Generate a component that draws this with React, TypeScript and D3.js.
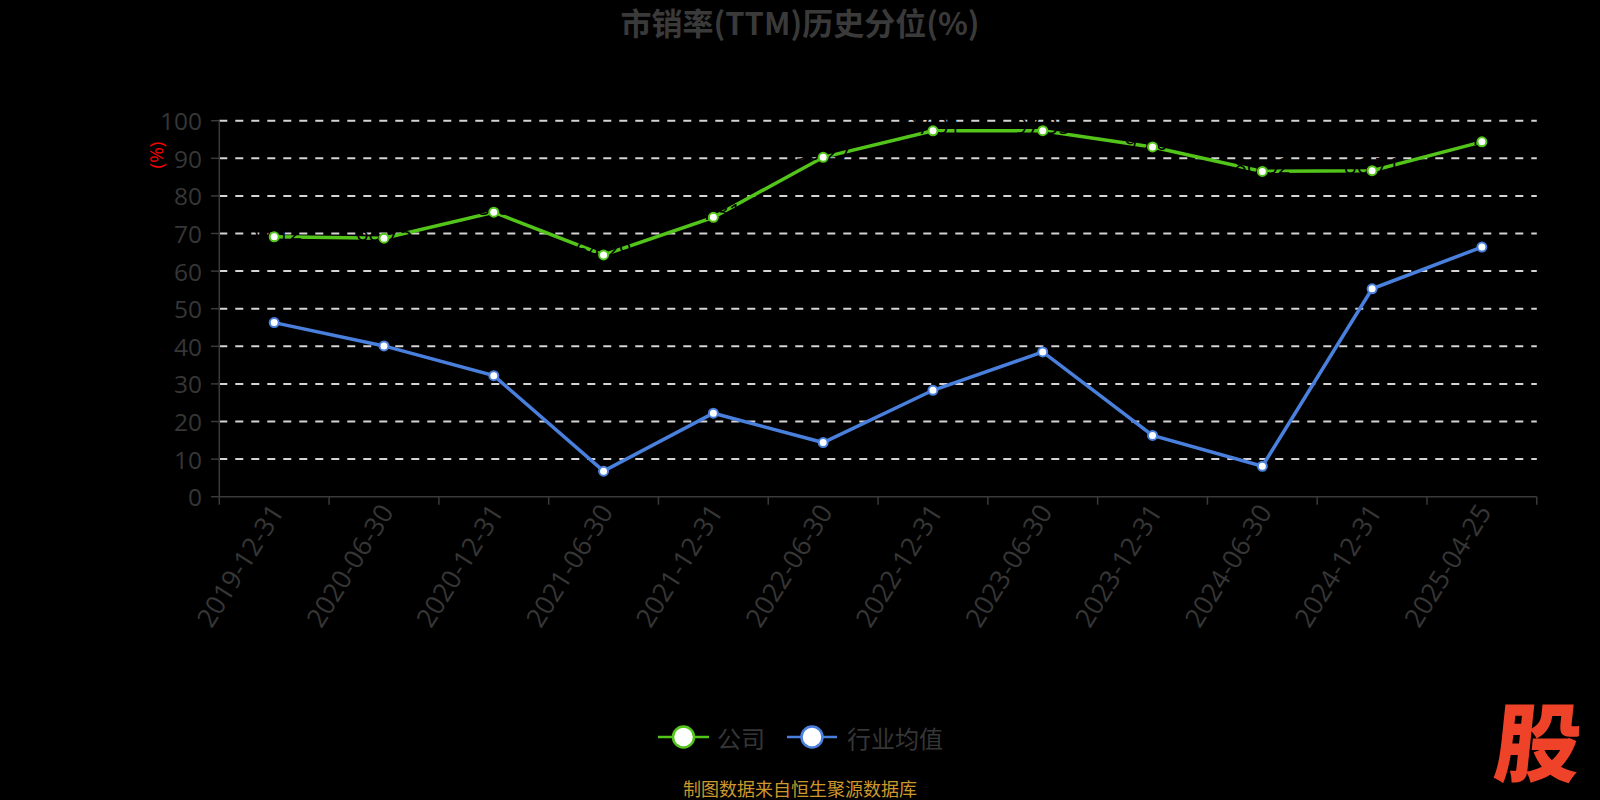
import React, { useEffect } from "react";
import * as d3 from "d3";

const categories = [
  "2019-12-31", "2020-06-30", "2020-12-31", "2021-06-30", "2021-12-31", "2022-06-30",
  "2022-12-31", "2023-06-30", "2023-12-31", "2024-06-30", "2024-12-31", "2025-04-25",
];
const companyValues = [69.12, 68.75, 75.66, 64.29, 74.31, 90.27, 97.31, 97.35, 93.01, 86.52, 86.71, 94.38];
const industryValues = [46.3, 40.1, 32.2, 6.8, 22.2, 14.4, 28.3, 38.5, 16.3, 8.1, 55.3, 66.4];
const yTicks = [0, 10, 20, 30, 40, 50, 60, 70, 80, 90, 100];
const seriesNames = ["公司", "行业均值"];

const W = 1600;
const H = 800;
const GREEN = "#52c41a";
const BLUE = "#4a80dd";
const TXT = "#363636";
const FONT = "'Open Sans', 'Noto Sans CJK SC', sans-serif";
const CJK = "'Noto Sans CJK SC', 'Open Sans', sans-serif";

export default function App() {
  useEffect(() => {
    document.body.style.margin = "0";
    document.body.style.background = "#000";
  }, []);

  const x = d3.scaleBand<string>().domain(categories).range([219.3, 1536.8]);
  const bw = x.bandwidth();
  const cx = (c: string) => (x(c) as number) + bw / 2;
  const y = d3.scaleLinear().domain([0, 100]).range([496.7, 120.7]);

  const line = d3
    .line<number>()
    .x((_, i) => cx(categories[i]))
    .y((d) => y(d));

  const boundaries = categories.map((c) => x(c) as number).concat([x.range()[1]]);

  return (
    <svg width={W} height={H} style={{ display: "block", background: "#000" }}>
      <rect x={0} y={0} width={W} height={H} fill="#000" />
      {/* title */}
      <text x={800} y={35} textAnchor="middle" fontFamily={CJK} fontWeight="bold" fontSize={31} fill="#3a3a3a">
        市销率(TTM)历史分位(%)
      </text>

      {/* grid */}
      {yTicks.filter((t) => t > 0).map((t) => (
        <line key={t} x1={x.range()[0]} x2={x.range()[1]} y1={y(t)} y2={y(t)} stroke="#d4d4d4" strokeWidth={2} strokeDasharray="8,8" />
      ))}

      {/* y axis */}
      <line x1={219.3} x2={219.3} y1={y(100)} y2={y(0)} stroke="#3a3a3a" strokeWidth={1.5} />
      {yTicks.map((t) => (
        <g key={t}>
          <line x1={211} x2={219.3} y1={y(t)} y2={y(t)} stroke="#3a3a3a" strokeWidth={1.5} />
          <text x={202} y={y(t)} textAnchor="end" dominantBaseline="central" fontFamily={FONT} fontSize={24.5} fill={TXT}>
            {t}
          </text>
        </g>
      ))}
      <text transform={`translate(156,155) rotate(-90)`} textAnchor="middle" dominantBaseline="central" fontFamily={FONT} fontSize={19} fill="#ff0000">
        (%)
      </text>

      {/* x axis */}
      <line x1={x.range()[0]} x2={x.range()[1]} y1={y(0)} y2={y(0)} stroke="#3a3a3a" strokeWidth={1.5} />
      {boundaries.map((b, i) => (
        <line key={i} x1={b} x2={b} y1={y(0)} y2={y(0) + 8} stroke="#3a3a3a" strokeWidth={1.5} />
      ))}
      {categories.map((c) => (
        <text key={c} transform={`translate(${cx(c) + 2},${y(0) + 10}) rotate(-58)`} textAnchor="end" dominantBaseline="central" fontFamily={FONT} fontSize={26.5} fill={TXT}>
          {c}
        </text>
      ))}

      {/* lines */}
      <path d={line(industryValues) || ""} fill="none" stroke={BLUE} strokeWidth={3.5} />
      <path d={line(companyValues) || ""} fill="none" stroke={GREEN} strokeWidth={3.5} />

      {/* company data labels (black) */}
      {companyValues.map((v, i) => (
        <text key={i} x={cx(categories[i])} y={y(v) + 3} textAnchor="middle" fontFamily={FONT} fontSize={22} fill="#000">
          {v.toFixed(2)}
        </text>
      ))}

      {/* markers */}
      {industryValues.map((v, i) => (
        <circle key={"b" + i} cx={cx(categories[i])} cy={y(v)} r={4.5} fill="#fff" stroke={BLUE} strokeWidth={2} />
      ))}
      {companyValues.map((v, i) => (
        <circle key={"g" + i} cx={cx(categories[i])} cy={y(v)} r={4.5} fill="#fff" stroke={GREEN} strokeWidth={2} />
      ))}

      {/* legend */}
      <g>
        <line x1={658} x2={709} y1={737} y2={737} stroke={GREEN} strokeWidth={2.5} />
        <circle cx={683.5} cy={737} r={10.5} fill="#fff" stroke={GREEN} strokeWidth={2.5} />
        <text x={717} y={737} dominantBaseline="central" fontFamily={CJK} fontSize={24} fill={TXT}>
          {seriesNames[0]}
        </text>
        <line x1={787} x2={837} y1={737} y2={737} stroke={BLUE} strokeWidth={2.5} />
        <circle cx={812} cy={737} r={10.5} fill="#fff" stroke={BLUE} strokeWidth={2.5} />
        <text x={847} y={737} dominantBaseline="central" fontFamily={CJK} fontSize={24} fill={TXT}>
          {seriesNames[1]}
        </text>
      </g>

      {/* footer */}
      <text x={800} y={788} textAnchor="middle" dominantBaseline="central" fontFamily={CJK} fontSize={18} fill="#cc982c">
        制图数据来自恒生聚源数据库
      </text>

      {/* logo */}
      <text transform="translate(1535,775) skewX(-6)" textAnchor="middle" fontFamily={CJK} fontWeight="900" fontSize={86} fill="#ee4229">
        股
      </text>
    </svg>
  );
}
